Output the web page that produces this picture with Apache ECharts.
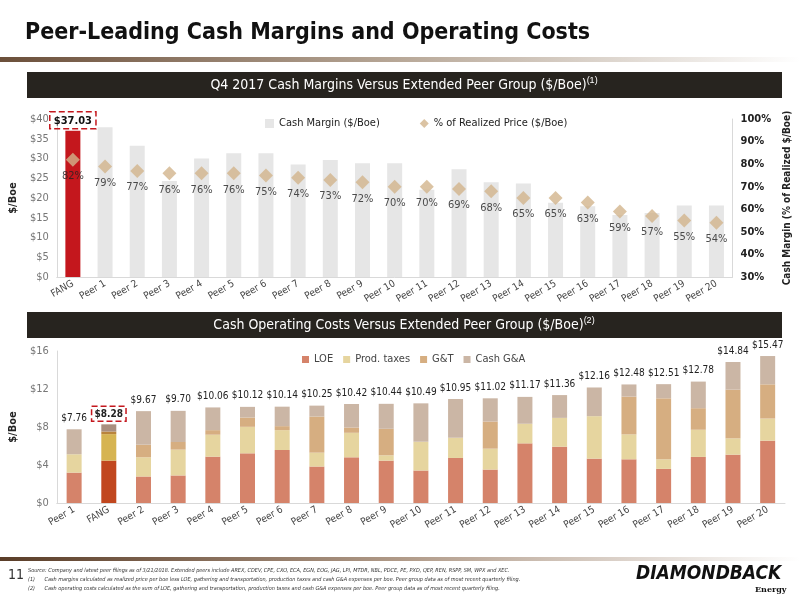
<!DOCTYPE html>
<html><head><meta charset="utf-8">
<script src="https://cdn.jsdelivr.net/npm/echarts@6/dist/echarts.min.js"></script>
<style>html,body{margin:0;padding:0;background:#fff}#c{width:800px;height:600px}</style>
</head><body><div id="c"></div>
<script>
const marginCats = ['FANG','Peer 1','Peer 2','Peer 3','Peer 4','Peer 5','Peer 6','Peer 7','Peer 8','Peer 9','Peer 10','Peer 11','Peer 12','Peer 13','Peer 14','Peer 15','Peer 16','Peer 17','Peer 18','Peer 19','Peer 20'];
const cashMargin = [37.03,37.9,33.2,24.3,30.0,31.3,31.3,28.5,29.6,28.8,28.8,22.1,27.3,24.0,23.7,18.8,17.9,15.7,16.2,18.1,18.1];
const pctRealized = [82,79,77,76,76,76,75,74,73,72,70,70,69,68,65,65,63,59,57,55,54];

const costCats = ['Peer 1','FANG','Peer 2','Peer 3','Peer 4','Peer 5','Peer 6','Peer 7','Peer 8','Peer 9','Peer 10','Peer 11','Peer 12','Peer 13','Peer 14','Peer 15','Peer 16','Peer 17','Peer 18','Peer 19','Peer 20'];
const loe      = [3.20,4.46,2.79,2.90,4.88,5.23,5.58,3.84,4.81,4.46,3.42,4.74,3.52,6.28,5.93,4.67,4.60,3.59,4.85,5.09,6.56];
const prodTax  = [1.93,2.79,2.02,2.72,2.31,2.79,2.09,1.46,2.58,0.56,3.03,2.13,2.20,2.06,3.03,4.47,2.62,1.01,2.86,1.71,2.33];
const gt       = [0.00,0.28,1.33,0.80,0.48,0.98,0.42,3.80,0.56,2.79,0.00,0.00,2.86,0.00,0.00,0.00,3.98,6.42,2.27,5.13,3.60];
const totals   = [7.76,8.28,9.67,9.70,10.06,10.12,10.14,10.25,10.42,10.44,10.49,10.95,11.02,11.17,11.36,12.16,12.48,12.51,12.78,14.84,15.47];
const cashGA   = totals.map((t,i)=>+(t-loe[i]-prodTax[i]-gt[i]).toFixed(2));

const F = "'DejaVu Sans Condensed','Liberation Sans Narrow','Roboto',sans-serif";
const colors = {loe:'#d5836a',prod:'#e6d59f',gt:'#d6ae81',ga:'#cbb6a5'};
const fangColors = {loe:'#c1471f',prod:'#d6b452',gt:'#b9843c',ga:'#a98f7f'};

function stackData(arr,key){
  return arr.map((v,i)=> costCats[i]==='FANG' ? {value:v,itemStyle:{color:fangColors[key]}} : v);
}
const fangIdx = costCats.indexOf('FANG');

const chart = echarts.init(document.getElementById('c'));
chart.setOption({
  animation:false,
  textStyle:{fontFamily:F},
  graphic:[
    {type:'text',left:25,top:22,style:{text:'Peer-Leading Cash Margins and Operating Costs',font:"bold 23px "+F,fill:'#111'}},
    {type:'rect',shape:{x:0,y:57,width:800,height:5},style:{fill:new echarts.graphic.LinearGradient(0,0,1,0,[{offset:0,color:'#6b4f3a'},{offset:0.5,color:'#b8a898'},{offset:1,color:'#ffffff'}])}},
    {type:'rect',shape:{x:27,y:72,width:755,height:26},style:{fill:'#27241f'}},
    {type:'text',x:404,y:85,style:{text:'Q4 2017 Cash Margins Versus Extended Peer Group ($/Boe){s|(1)}',rich:{s:{fontSize:9,fill:'#fff',padding:[0,0,8,0]}},font:"14px "+F,fill:'#fff',align:'center',verticalAlign:'middle'}},
    {type:'rect',shape:{x:27,y:312,width:755,height:26},style:{fill:'#27241f'}},
    {type:'text',x:404,y:325,style:{text:'Cash Operating Costs Versus Extended Peer Group ($/Boe){s|(2)}',rich:{s:{fontSize:9,fill:'#fff',padding:[0,0,8,0]}},font:"14px "+F,fill:'#fff',align:'center',verticalAlign:'middle'}},
    {type:'rect',shape:{x:0,y:557,width:800,height:4},style:{fill:new echarts.graphic.LinearGradient(0,0,1,0,[{offset:0,color:'#5a3d28'},{offset:0.5,color:'#b09a88'},{offset:1,color:'#ffffff'}])}},
    {type:'text',left:8,top:568,style:{text:'11',font:"14px "+F,fill:'#333'}},
    {type:'text',left:28,top:566,style:{text:'Source: Company and latest peer filings as of 3/21/2018. Extended peers include AREX, CDEV, CPE, CXO, ECA, EGN, EOG, JAG, LPI, MTDR, NBL, PDCE, PE, PXD, QEP, REN, RSPP, SM, WPX and XEC.\n(1)      Cash margins calculated as realized price per boe less LOE, gathering and transportation, production taxes and cash G&A expenses per boe. Peer group data as of most recent quarterly filing.\n(2)      Cash operating costs calculated as the sum of LOE, gathering and transportation, production taxes and cash G&A expenses per boe. Peer group data as of most recent quarterly filing.',font:"italic 5.5px "+F,fill:'#333',lineHeight:9}},
    {type:'text',left:636,top:565,style:{text:'DIAMONDBACK',font:"italic bold 19px "+F,fill:'#111'}},
    {type:'text',left:755,top:586,style:{text:'Energy',font:"bold 8px 'DejaVu Serif',serif",fill:'#111'}}
  ],
  legend:[
    {top:113,left:260,itemWidth:9,itemHeight:9,itemGap:40,textStyle:{fontSize:11,color:'#222',fontFamily:F},data:[{name:'Cash Margin ($/Boe)',icon:'rect'},{name:'% of Realized Price ($/Boe)',icon:'diamond'}]},
    {top:349,left:297,itemWidth:7,itemHeight:7,itemGap:10,textStyle:{fontSize:11,color:'#444',fontFamily:F},data:[{name:'LOE',icon:'rect'},{name:'Prod. taxes',icon:'rect'},{name:'G&T',icon:'rect'},{name:'Cash G&A',icon:'rect'}]}
  ],
  grid:[
    {left:48,right:60,top:119,height:158},
    {left:50,right:15,top:351,height:152}
  ],
  xAxis:[
    {type:'category',gridIndex:0,data:marginCats,axisTick:{show:false},axisLine:{lineStyle:{color:'#d9d9d9'}},axisLabel:{rotate:30,interval:0,color:'#444',fontSize:10,margin:6}},
    {type:'category',gridIndex:1,data:costCats,axisTick:{show:false},axisLine:{lineStyle:{color:'#d9d9d9'}},axisLabel:{rotate:30,interval:0,color:'#444',fontSize:10,margin:6}}
  ],
  yAxis:[
    {type:'value',gridIndex:0,min:0,max:40,interval:5,splitLine:{show:false},axisLine:{show:true,lineStyle:{color:'#d9d9d9'}},axisLabel:{formatter:'${value}',color:'#777',fontSize:11},name:'$/Boe',nameLocation:'middle',nameGap:30,nameRotate:90,nameTextStyle:{fontWeight:'bold',fontSize:11,color:'#222'}},
    {type:'value',gridIndex:0,min:30,max:100,interval:10,position:'right',splitLine:{show:false},axisLine:{show:true,lineStyle:{color:'#d9d9d9'}},axisLabel:{formatter:'{value}%',color:'#222',fontSize:11,fontWeight:'bold'},name:'Cash Margin (% of Realized $/Boe)',nameLocation:'middle',nameGap:40,nameRotate:90,nameTextStyle:{fontWeight:'bold',fontSize:10,color:'#222'}},
    {type:'value',gridIndex:1,min:0,max:16,interval:4,splitLine:{show:false},axisLine:{show:true,lineStyle:{color:'#d9d9d9'}},axisLabel:{formatter:'${value}',color:'#777',fontSize:11},name:'$/Boe',nameLocation:'middle',nameGap:30,nameRotate:90,nameTextStyle:{fontWeight:'bold',fontSize:11,color:'#222'}}
  ],
  series:[
    {name:'Cash Margin ($/Boe)',type:'bar',xAxisIndex:0,yAxisIndex:0,barWidth:15,itemStyle:{color:'#e6e6e6'},
      data:cashMargin.map((v,i)=> i===0 ? {value:v,itemStyle:{color:'#c4171d'},label:{show:true,position:'top',formatter:'$'+v.toFixed(2),fontWeight:'bold',fontSize:11,color:'#111',padding:[4,4,2,4],borderColor:'#c4171d',borderWidth:1.5,borderType:'dashed',distance:2}} : v)},
    {name:'% of Realized Price ($/Boe)',type:'scatter',xAxisIndex:0,yAxisIndex:1,symbol:'diamond',symbolSize:14,itemStyle:{color:'#d2b48c'},
      label:{show:true,position:'bottom',distance:4,formatter:p=>p.value+'%',fontSize:11,color:'#222'},data:pctRealized,z:5},
    {name:'LOE',type:'bar',stack:'c',xAxisIndex:1,yAxisIndex:2,barWidth:15,itemStyle:{color:colors.loe},data:stackData(loe,'loe')},
    {name:'Prod. taxes',type:'bar',stack:'c',xAxisIndex:1,yAxisIndex:2,itemStyle:{color:colors.prod},data:stackData(prodTax,'prod')},
    {name:'G&T',type:'bar',stack:'c',xAxisIndex:1,yAxisIndex:2,itemStyle:{color:colors.gt},data:stackData(gt,'gt')},
    {name:'Cash G&A',type:'bar',stack:'c',xAxisIndex:1,yAxisIndex:2,itemStyle:{color:colors.ga},
      label:{show:true,position:'top',distance:6,fontSize:10,color:'#222',formatter:p=>'$'+totals[p.dataIndex].toFixed(2)},
      data:cashGA.map((v,i)=> i===fangIdx ? {value:v,itemStyle:{color:fangColors.ga},label:{fontWeight:'bold',padding:[3,3,2,3],borderColor:'#c4171d',borderWidth:1.5,borderType:'dashed',distance:3}} : v)}
  ]
});
</script></body></html>
